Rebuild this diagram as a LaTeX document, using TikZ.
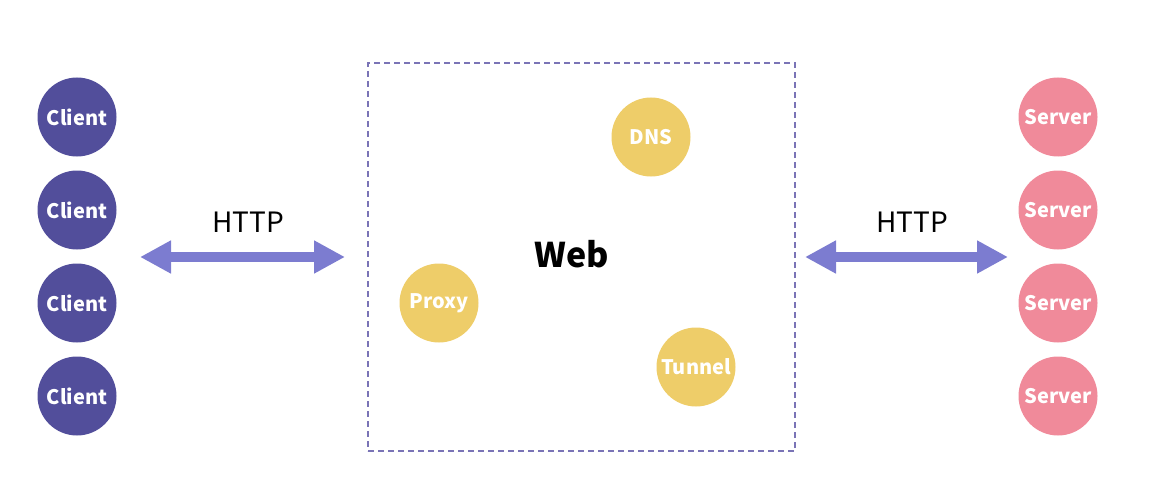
\documentclass[tikz,border=0pt]{standalone}
\usepackage{fontspec}
\setmainfont{Noto Sans CJK KR}
\usetikzlibrary{arrows.meta, positioning}

\definecolor{clientcol}{HTML}{524E9B}
\definecolor{servercol}{HTML}{F08A9A}
\definecolor{webcol}{HTML}{EECD69}
\definecolor{arrowcol}{HTML}{7C7CD0}
\definecolor{boxcol}{HTML}{7A74B6}

\tikzset{
  ball/.style={circle, minimum size=79pt, inner sep=0pt, text=white,
    font=\fontsize{20}{22}\selectfont\bfseries},
  client/.style={ball, fill=clientcol},
  server/.style={ball, fill=servercol},
  part/.style={ball, fill=webcol},
  link/.style={{Triangle[length=31pt,width=31pt]}-{Triangle[length=31pt,width=31pt]},
    line width=10pt, draw=arrowcol, fill=arrowcol},
  proto/.style={font=\fontsize{28}{30}\selectfont}
}

\begin{document}
\begin{tikzpicture}[x=1pt, y=-1pt]
  \useasboundingbox (0,0) rectangle (1164,484);
  % clients and servers
  \foreach \i/\y in {1/117, 2/210, 3/303, 4/396} {
    \node[client] (c\i) at (77, \y) {Client};
    \node[server] (s\i) at (1058, \y) {Server};
  }
  % the web
  \node[draw=boxcol, dash pattern=on 6pt off 4pt, line width=1.2pt,
    minimum width=427pt, minimum height=388pt] (web) at (581.5, 257) {};
  \node[font=\fontsize{34}{36}\selectfont\bfseries] (weblabel) at (572, 254) {Web};
  \node[part] (dns) at (651, 137) {DNS};
  \node[part] (proxy) at (439, 303) {Proxy};
  \node[part] (tunnel) at (696, 367) {Tunnel};
  % http links
  \coordinate (l1) at (140, 257);
  \coordinate (l2) at (345, 257);
  \coordinate (r1) at (805, 257);
  \coordinate (r2) at (1008, 257);
  \draw[link] (l1) -- (l2);
  \draw[link] (r1) -- (r2);
  \node[proto] (httpl) at (248, 222) {HTTP};
  \node[proto] (httpr) at (912, 222) {HTTP};
\end{tikzpicture}
\end{document}
